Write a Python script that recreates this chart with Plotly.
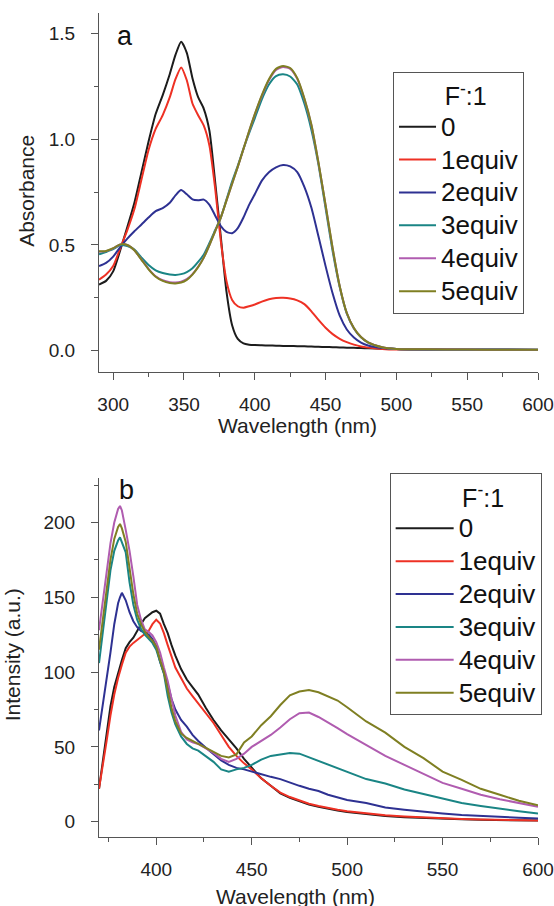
import plotly.graph_objects as go

# ---------------- data: panel a (absorbance) ----------------
wl_a = [290, 295, 300, 305, 310, 315, 320, 325, 330, 335, 340, 344, 348, 352, 356, 360,
        364, 368, 372, 376, 380, 384, 388, 392, 396, 400, 405, 410, 415, 420, 425, 430,
        435, 440, 445, 450, 455, 460, 465, 470, 475, 480, 490, 500, 520, 550, 575, 600]

abs_0 = [0.313, 0.33, 0.375, 0.475, 0.585, 0.70, 0.845, 0.99, 1.12, 1.21, 1.31, 1.40, 1.463,
         1.41, 1.29, 1.20, 1.145, 1.04, 0.80, 0.54, 0.28, 0.12, 0.055, 0.034, 0.028, 0.026,
         0.025, 0.024, 0.023, 0.022, 0.022, 0.021, 0.020, 0.019, 0.018, 0.017, 0.016, 0.015,
         0.014, 0.013, 0.012, 0.011, 0.009, 0.007, 0.006, 0.005, 0.005, 0.004]
abs_1 = [0.336, 0.36, 0.40, 0.485, 0.57, 0.67, 0.81, 0.95, 1.05, 1.115, 1.20, 1.285, 1.341,
         1.28, 1.17, 1.114, 1.065, 0.97, 0.77, 0.52, 0.33, 0.24, 0.21, 0.203, 0.21, 0.218,
         0.232, 0.243, 0.249, 0.25, 0.247, 0.238, 0.22, 0.186, 0.145, 0.108, 0.078, 0.056,
         0.04, 0.028, 0.019, 0.014, 0.008, 0.005, 0.004, 0.003, 0.003, 0.003]
abs_2 = [0.40, 0.415, 0.445, 0.49, 0.53, 0.565, 0.597, 0.63, 0.66, 0.675, 0.70, 0.735, 0.76,
         0.74, 0.716, 0.712, 0.715, 0.69, 0.64, 0.59, 0.562, 0.556, 0.58, 0.63, 0.69, 0.74,
         0.805, 0.845, 0.868, 0.879, 0.872, 0.845, 0.775, 0.676, 0.54, 0.40, 0.27, 0.165,
         0.10, 0.062, 0.038, 0.024, 0.012, 0.007, 0.005, 0.004, 0.004, 0.003]
abs_3 = [0.456, 0.467, 0.48, 0.50, 0.495, 0.478, 0.44, 0.405, 0.38, 0.367, 0.36, 0.358, 0.362,
         0.372, 0.39, 0.42, 0.455, 0.51, 0.57, 0.63, 0.715, 0.80, 0.875, 0.955, 1.03, 1.10,
         1.19, 1.26, 1.30, 1.308, 1.298, 1.26, 1.17, 1.045, 0.88, 0.675, 0.47, 0.30, 0.175,
         0.105, 0.063, 0.038, 0.015, 0.008, 0.005, 0.004, 0.004, 0.004]
abs_4 = [0.468, 0.471, 0.484, 0.503, 0.50, 0.475, 0.431, 0.387, 0.352, 0.333, 0.324, 0.322,
         0.326, 0.338, 0.362, 0.397, 0.441, 0.50, 0.565, 0.63, 0.71, 0.79, 0.87, 0.954, 1.038,
         1.117, 1.206, 1.28, 1.329, 1.343, 1.334, 1.287, 1.192, 1.067, 0.888, 0.688, 0.483,
         0.304, 0.177, 0.106, 0.064, 0.039, 0.016, 0.008, 0.006, 0.005, 0.004, 0.004]
abs_5 = [0.47, 0.472, 0.485, 0.503, 0.50, 0.475, 0.43, 0.385, 0.35, 0.33, 0.32, 0.318, 0.322,
         0.335, 0.36, 0.395, 0.44, 0.50, 0.565, 0.63, 0.71, 0.79, 0.87, 0.955, 1.04, 1.12,
         1.21, 1.285, 1.334, 1.348, 1.338, 1.29, 1.195, 1.07, 0.89, 0.69, 0.485, 0.305,
         0.178, 0.107, 0.064, 0.039, 0.016, 0.008, 0.006, 0.005, 0.004, 0.004]

# ---------------- data: panel b (fluorescence) ----------------
wl_b = [370, 372, 374, 376, 378, 380, 381, 382, 384, 386, 388, 390, 392, 394, 396, 398, 400,
        402, 404, 406, 408, 410, 413, 416, 419, 422, 426, 430, 434, 438, 442, 446, 450, 455,
        460, 465, 470, 475, 480, 485, 490, 495, 500, 510, 520, 530, 540, 550, 560, 570, 580,
        590, 600]

fl_0 = [22, 40, 60, 77, 90, 100, 104, 108, 116, 120, 123, 128, 132, 136, 138, 140, 141,
        139, 132, 126, 118, 111, 102, 95, 90, 85, 76, 68, 61, 55, 49, 42, 36, 29,
        24, 19, 16, 13.5, 11.5, 10, 8.5, 7.5, 6.5, 5, 3.8, 3, 2.4, 2, 1.6, 1.3, 1.1,
        0.9, 0.8]
fl_1 = [22, 37, 54, 71, 85, 96, 101, 105, 113, 117, 119.5, 121.5, 123.5, 125.5, 127.5, 132, 135,
        132.5, 126, 118, 111, 103, 96, 89, 84, 79, 73, 66, 58, 50, 44, 39, 35, 29,
        24, 19.5, 16.5, 14, 12, 10.5, 9, 8, 7, 5.5, 4.3, 3.5, 2.8, 2.3, 1.8, 1.5, 1.2,
        1, 0.9]
fl_2 = [61, 78, 94, 113, 132, 146, 150, 153, 148, 140, 134, 130, 127.5, 126.5, 125, 122, 117,
        107, 100, 92, 82, 75, 68, 63.5, 58, 54, 49.5, 45, 41, 38, 36, 35, 33.5, 31.5,
        30, 28.5, 26, 24, 22, 20.5, 18, 16.5, 14.5, 12.5, 9.5, 8, 6.5, 5.5, 4.5, 3.8, 3.2,
        2.7, 2.2]
fl_3 = [106, 128, 150, 168, 181, 188, 190, 187, 180, 160, 145, 135, 129, 125, 122, 119.5, 115,
        107, 99, 84, 73, 65, 57, 52, 49, 47.5, 44, 40, 35, 33.5, 35, 36, 38, 41.5,
        44, 45, 46, 45.5, 43, 40.5, 38, 35.5, 33, 28.5, 25.5, 21.5, 18.5, 15.5, 12.5, 10.5, 8.5,
        7, 5.5]
fl_4 = [128, 148, 168, 186, 200, 209, 211, 208, 195, 181, 164, 145, 135, 128.5, 127, 124.5, 120,
        113, 103, 94, 82, 71, 60, 55, 53, 52, 49, 46, 42, 40, 42, 45.5, 50, 54,
        58, 63, 68.5, 72.5, 73, 70, 66.5, 62.5, 58.5, 51, 44, 38, 32, 26, 22, 18, 15,
        12.5, 10]
fl_5 = [115, 136, 157, 175, 189, 197, 199, 196, 187, 170, 152, 139, 132, 127, 123.5, 121, 117,
        108, 100, 88, 76, 67, 59, 56, 54, 51.5, 49, 46.5, 44, 43, 45, 53, 57, 64.5,
        70.5, 78, 84.5, 87, 88, 86.5, 84, 81, 76.5, 67, 59.5, 50, 42.5, 33.5, 28, 22, 18,
        14, 11]

series_names = ["0", "1equiv", "2equiv", "3equiv", "4equiv", "5equiv"]
colors = ["#1c1c1c", "#ee3124", "#2e3192", "#1a8585", "#b05cb0", "#7f7f22"]

FONT = "Liberation Sans, Arial, sans-serif"
W, H = 554, 906
ML, MR = 99, 12
PW = W - ML - MR


def px_x(p):
    return (p - ML) / PW


def px_y(p):
    return 1 - p / H


def big(txt):
    return '<span style="font-size:26px">' + txt + '</span>'


fig = go.Figure()

abs_sets = [abs_0, abs_1, abs_2, abs_3, abs_4, abs_5]
for name, ys, c in zip(series_names, abs_sets, colors):
    fig.add_trace(go.Scatter(x=wl_a, y=ys, name=big(name), mode="lines",
                             line=dict(color=c, width=2, shape="spline", smoothing=0.6),
                             xaxis="x", yaxis="y", legend="legend"))

fl_sets = [fl_0, fl_1, fl_2, fl_3, fl_4, fl_5]
for name, ys, c in zip(series_names, fl_sets, colors):
    fig.add_trace(go.Scatter(x=wl_b, y=ys, name=big(name), mode="lines",
                             line=dict(color=c, width=2),
                             xaxis="x2", yaxis="y2", legend="legend2"))

axcol = "#555555"
tickfont = dict(family=FONT, size=19, color="#222222")


def xax(rng, t0, anchor):
    return dict(domain=[0, 1], anchor=anchor, range=rng, tick0=t0, dtick=50,
                ticks="outside", ticklen=7, tickwidth=1, tickcolor=axcol,
                showline=True, linecolor=axcol, linewidth=1, showgrid=False, zeroline=False,
                minor=dict(dtick=25, tick0=t0, ticks="outside", ticklen=4, tickcolor=axcol,
                           tickwidth=1, showgrid=False),
                tickfont=tickfont, ticklabelstandoff=8, ticklabeloverflow="allow")


def yax(dom, rng, dt, fmt, anchor):
    return dict(domain=dom, anchor=anchor, range=rng, tick0=0, dtick=dt, tickformat=fmt,
                ticks="outside", ticklen=7, tickwidth=1, tickcolor=axcol,
                showline=True, linecolor=axcol, linewidth=1, showgrid=False, zeroline=False,
                minor=dict(dtick=dt / 2, tick0=0, ticks="outside", ticklen=4, tickcolor=axcol,
                           tickwidth=1, showgrid=False),
                tickfont=tickfont, ticklabelstandoff=12, ticklabeloverflow="allow")


legfont = dict(family=FONT, size=23, color="#111111")
legtitlefont = dict(family=FONT, size=25, color="#111111")

fig.update_layout(
    width=W, height=H,
    margin=dict(l=ML, r=MR, t=0, b=0),
    paper_bgcolor="white", plot_bgcolor="white",
    font=dict(family=FONT, color="#222222"),
    showlegend=True,
    xaxis=xax([290, 600], 300, "y"),
    yaxis=yax([px_y(371.7), px_y(12.7)], [-0.1, 1.6], 0.5, ".1f", "x"),
    xaxis2=xax([370, 600], 400, "y2"),
    yaxis2=yax([px_y(836.7), px_y(478.3)], [-10, 229.5], 50, "d", "x2"),
    legend=dict(x=px_x(395.7), y=px_y(71.7), xanchor="left", yanchor="top",
                bordercolor=axcol, borderwidth=1, bgcolor="white", font=legfont,
                itemwidth=37, tracegroupgap=0,
                title=dict(text="\u00a0" * 7 + "F<sup>-</sup>:1", font=legtitlefont, side="top")),
    legend2=dict(x=px_x(392.3), y=px_y(473.3), xanchor="left", yanchor="top",
                 bordercolor=axcol, borderwidth=1, bgcolor="white", font=legfont,
                 itemwidth=58, tracegroupgap=0,
                 title=dict(text="\u00a0" * 10 + "F<sup>-</sup>:1", font=legtitlefont, side="top")),
)

titlefont = dict(family=FONT, size=21, color="#222222")
annots = [
    dict(text="a", x=px_x(125), y=px_y(36), font=dict(family=FONT, size=27, color="#111111")),
    dict(text="b", x=px_x(127), y=px_y(490), font=dict(family=FONT, size=27, color="#111111")),
    dict(text="Wavelength (nm)", x=px_x(299.5), y=px_y(425.6), font=titlefont),
    dict(text="Wavelength (nm)", x=px_x(297.3), y=px_y(896), font=titlefont),
    dict(text="Absorbance", x=px_x(26.2), y=px_y(191), font=titlefont, textangle=-90),
    dict(text="Intensity (a.u.)", x=px_x(11.5), y=px_y(655), font=titlefont, textangle=-90),
]
for a in annots:
    fig.add_annotation(xref="paper", yref="paper", showarrow=False,
                       xanchor="center", yanchor="middle", **a)

fig.write_html("out.html", config={"displayModeBar": False},
               post_script="document.body.style.margin='0';document.body.style.padding='0';"
                           "document.documentElement.style.overflow='hidden';")
